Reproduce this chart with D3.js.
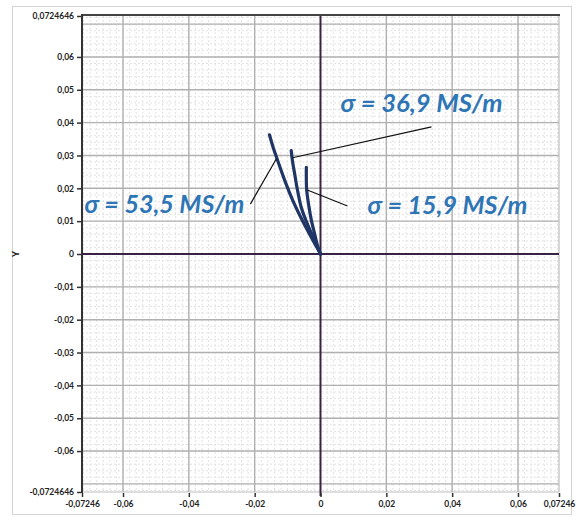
<!DOCTYPE html>
<html><head><meta charset="utf-8">
<script src="https://cdn.jsdelivr.net/npm/d3@7"></script>
<style>body{margin:0;background:#fff;} svg{display:block;}</style>
</head><body>
<svg id="c" width="584" height="521"></svg>
<script>
// ---- data ----
const xTickValues = [-0.07246, -0.06, -0.04, -0.02, 0, 0.02, 0.04, 0.06, 0.07246];
const xTickLabels = ["-0,07246", "-0,06", "-0,04", "-0,02", "0", "0,02", "0,04", "0,06", "0,07246"];
const yTickValues = [0.0724646, 0.06, 0.05, 0.04, 0.03, 0.02, 0.01, 0, -0.01, -0.02, -0.03, -0.04, -0.05, -0.06, -0.0724646];
const yTickLabels = ["0,0724646", "0,06", "0,05", "0,04", "0,03", "0,02", "0,01", "0", "-0,01", "-0,02", "-0,03", "-0,04", "-0,05", "-0,06", "-0,0724646"];

const curve1X = [0, -0.0012, -0.0040, -0.0063, -0.0085, -0.0109, -0.0131, -0.0144, -0.0155];
const curve1Y = [0, 0.0022, 0.0073, 0.0118, 0.0165, 0.0225, 0.0287, 0.0325, 0.0363];
const curve2X = [0, -0.0010, -0.0028, -0.0045, -0.0059, -0.0070, -0.0079, -0.0085, -0.0089];
const curve2Y = [0, 0.0022, 0.0064, 0.0104, 0.0144, 0.0195, 0.0247, 0.0282, 0.0315];
const curve3X = [0, -0.0008, -0.0018, -0.0028, -0.0036, -0.0042, -0.0043];
const curve3Y = [0, 0.0022, 0.0062, 0.0104, 0.0150, 0.0195, 0.0264];

const labelTexts = ["σ = 36,9 MS/m", "σ = 53,5 MS/m", "σ = 15,9 MS/m"];

// ---- layout ----
const svg = d3.select("#c");
const X0 = 82, X1 = 559, Y0 = 16, Y1 = 492;
const x = d3.scaleLinear().domain([-0.07246, 0.07246]).range([X0, X1]);
const y = d3.scaleLinear().domain([-0.0724646, 0.0724646]).range([Y1, Y0]);

// outer frame
svg.append("rect").attr("x", 12.5).attr("y", 6.5).attr("width", 559).attr("height", 508)
  .attr("fill", "#fff").attr("stroke", "#d4d4d4").attr("stroke-width", 1);

// minor grid
const minor = d3.range(-0.072, 0.0721, 0.002);
const g = svg.append("g");
g.selectAll(".mv").data(minor).enter().append("line")
  .attr("x1", d => x(d)).attr("x2", d => x(d)).attr("y1", Y0).attr("y2", Y1)
  .attr("stroke", "#e2e2e2").attr("stroke-width", 1).attr("stroke-dasharray", "2,2");
g.selectAll(".mh").data(minor).enter().append("line")
  .attr("y1", d => y(d)).attr("y2", d => y(d)).attr("x1", X0).attr("x2", X1)
  .attr("stroke", "#e2e2e2").attr("stroke-width", 1).attr("stroke-dasharray", "2,2");

// major grid
const majorX = [-0.06, -0.04, -0.02, 0.02, 0.04, 0.06];
const majorY = d3.range(-7, 8).map(i => i / 100).filter(v => v !== 0);
g.selectAll(".Mv").data(majorX).enter().append("line")
  .attr("x1", d => x(d)).attr("x2", d => x(d)).attr("y1", Y0).attr("y2", Y1)
  .attr("stroke", "#b0b0b0").attr("stroke-width", 1.4);
g.selectAll(".Mh").data(majorY).enter().append("line")
  .attr("y1", d => y(d)).attr("y2", d => y(d)).attr("x1", X0).attr("x2", X1)
  .attr("stroke", "#b0b0b0").attr("stroke-width", 1.4);

// plot border
svg.append("line").attr("x1", X1).attr("x2", X1).attr("y1", Y0).attr("y2", Y1).attr("stroke", "#bdbdbd").attr("stroke-width", 1.2);
svg.append("line").attr("x1", X0).attr("x2", X1).attr("y1", Y1).attr("y2", Y1).attr("stroke", "#bdbdbd").attr("stroke-width", 1.2);
svg.append("line").attr("x1", X0).attr("x2", X1 + 1).attr("y1", Y0 - 1).attr("y2", Y0 - 1).attr("stroke", "#444").attr("stroke-width", 2);
svg.append("line").attr("x1", X0).attr("x2", X0).attr("y1", Y0 - 2).attr("y2", Y1 + 1).attr("stroke", "#333").attr("stroke-width", 2);

// zero axes
svg.append("line").attr("x1", x(0)).attr("x2", x(0)).attr("y1", Y0).attr("y2", Y1 + 4).attr("stroke", "#3a2244").attr("stroke-width", 2);
svg.append("line").attr("x1", X0).attr("x2", X1).attr("y1", y(0)).attr("y2", y(0)).attr("stroke", "#3a2244").attr("stroke-width", 2);

// axes
const yAxis = d3.axisLeft(y).tickValues(yTickValues).tickSize(4).tickPadding(3)
  .tickFormat((d, i) => yTickLabels[i]);
const ya = svg.append("g").attr("transform", `translate(${X0 - 1},0)`).call(yAxis);
ya.select(".domain").remove();
ya.selectAll(".tick line").attr("stroke", "#333").attr("stroke-width", 1.5);
ya.selectAll("text").attr("font-family", "Lato, sans-serif").attr("font-size", 8.5).attr("font-weight", 700).attr("fill", "#222");

const xAxis = d3.axisBottom(x).tickValues(xTickValues).tickSize(4).tickPadding(4)
  .tickFormat((d, i) => xTickLabels[i]);
const xa = svg.append("g").attr("transform", `translate(0,${Y1 + 1})`).call(xAxis);
xa.select(".domain").remove();
xa.selectAll(".tick line").attr("stroke", "#333").attr("stroke-width", 1.5);
xa.selectAll("text").attr("font-family", "Lato, sans-serif").attr("font-size", 8.5).attr("font-weight", 700).attr("fill", "#222");

// y axis title
svg.append("text").attr("transform", `translate(19,${y(0)}) rotate(-90)`)
  .attr("text-anchor", "middle").attr("font-family", "Lato, sans-serif").attr("font-size", 9)
  .attr("font-weight", 900).attr("fill", "#222").text("Y");

// curves
const line = d3.line().x(d => x(d[0])).y(d => y(d[1])).curve(d3.curveCatmullRom);
const curves = [[curve1X, curve1Y], [curve2X, curve2Y], [curve3X, curve3Y]];
svg.selectAll(".crv").data(curves).enter().append("path")
  .attr("d", c => line(c[0].map((v, i) => [v, c[1][i]])))
  .attr("fill", "none").attr("stroke", "#1f3566").attr("stroke-width", 3.2)
  .attr("stroke-linecap", "round").attr("stroke-linejoin", "round");

// annotations (leader lines + labels), positioned in data space
const leaders = [
  [[-0.0085, 0.0293], [0.0337, 0.0387]],
  [[-0.0213, 0.0152], [-0.0134, 0.0290]],
  [[-0.0040, 0.0195], [0.0082, 0.0146]]
];
svg.selectAll(".ld").data(leaders).enter().append("line")
  .attr("x1", d => x(d[0][0])).attr("y1", d => y(d[0][1]))
  .attr("x2", d => x(d[1][0])).attr("y2", d => y(d[1][1]))
  .attr("stroke", "#111").attr("stroke-width", 1.2);

const labelPos = [[0.0061, 0.0433, 162], [-0.0717, 0.0125, 160], [0.0143, 0.0122, 160]];
labelTexts.forEach((t, i) => {
  const el = svg.append("text")
    .attr("x", x(labelPos[i][0])).attr("y", y(labelPos[i][1]))
    .attr("font-family", "Lato, 'Open Sans', sans-serif").attr("font-style", "italic")
    .attr("font-weight", 700).attr("font-size", 20).attr("fill", "#2e75b6").text(t);
  const w = el.node().getComputedTextLength();
  el.attr("font-size", 20 * labelPos[i][2] / w);
});
</script>
</body></html>
